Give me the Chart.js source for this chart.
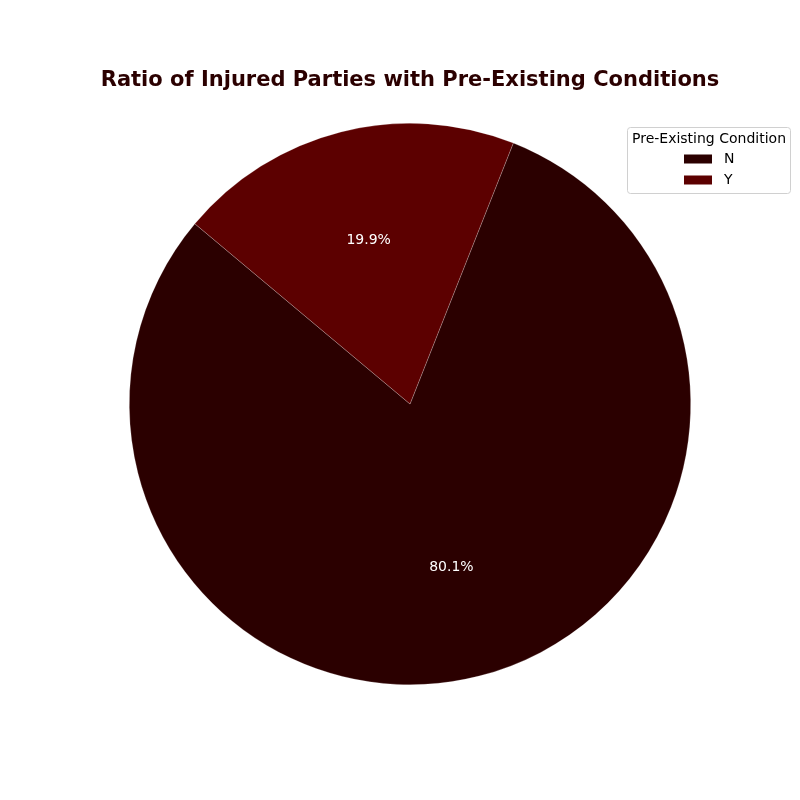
<!DOCTYPE html>
<html>
<head>
<meta charset="utf-8">
<script src="https://cdn.jsdelivr.net/npm/chart.js@4"></script>
<style>
  html, body { margin: 0; padding: 0; background: #fff; }
  #wrap { width: 800px; height: 800px; }
</style>
</head>
<body>
<div id="wrap"><canvas id="pie-chart"></canvas></div>
<script>
// Data
const conditionLabels = ['N', 'Y'];
const conditionShares = [80.1, 19.9];
const sliceColors = ['#2b0000', '#5c0000'];
const chartTitle = 'Ratio of Injured Parties with Pre-Existing Conditions';

// percentage labels inside the slices (matplotlib autopct style)
const pctLabels = {
  id: 'pctLabels',
  afterDatasetsDraw(chart) {
    const ctx = chart.ctx;
    const meta = chart.getDatasetMeta(0);
    const total = conditionShares.reduce((a, b) => a + b, 0);
    ctx.save();
    ctx.font = '14px "DejaVu Sans"';
    ctx.fillStyle = '#ffffff';
    ctx.textAlign = 'center';
    ctx.textBaseline = 'middle';
    meta.data.forEach((arc, i) => {
      const mid = (arc.startAngle + arc.endAngle) / 2;
      const r = arc.outerRadius * 0.6;
      const x = arc.x + Math.cos(mid) * r;
      const y = arc.y + Math.sin(mid) * r;
      ctx.fillText((conditionShares[i] / total * 100).toFixed(1) + '%', x, y);
    });
    ctx.restore();
  }
};

// title drawn by hand so it is not squeezed to the chart area width
const bigTitle = {
  id: 'bigTitle',
  afterDraw(chart) {
    const ctx = chart.ctx;
    const area = chart.chartArea;
    ctx.save();
    ctx.font = 'bold 21px "DejaVu Sans"';
    ctx.fillStyle = '#2b0000';
    ctx.textAlign = 'center';
    ctx.textBaseline = 'middle';
    ctx.fillText(chartTitle, (area.left + area.right) / 2, 81);
    ctx.restore();
  }
};

// legend box in the top right corner
const boxLegend = {
  id: 'boxLegend',
  afterDraw(chart) {
    const ctx = chart.ctx;
    const x0 = 627.5, y0 = 127.5, w = 163, h = 66;
    ctx.save();
    ctx.fillStyle = 'rgba(255,255,255,0.8)';
    ctx.strokeStyle = '#d0d0d0';
    ctx.lineWidth = 1;
    ctx.beginPath();
    ctx.roundRect(x0, y0, w, h, 3);
    ctx.fill();
    ctx.stroke();
    ctx.fillStyle = '#000';
    ctx.font = '14px "DejaVu Sans"';
    ctx.textAlign = 'center';
    ctx.textBaseline = 'middle';
    ctx.fillText('Pre-Existing Condition', x0 + w / 2, 139);
    ctx.textAlign = 'left';
    conditionLabels.forEach((lab, i) => {
      const y = 159 + i * 21;
      ctx.fillStyle = sliceColors[i];
      ctx.fillRect(684, y - 4.5, 28, 9);
      ctx.fillStyle = '#000';
      ctx.fillText(lab, 724, y);
    });
    ctx.restore();
  }
};

const pieChart = document.getElementById('pie-chart');
new Chart(pieChart, {
  type: 'pie',
  data: {
    labels: conditionLabels,
    datasets: [
      {
        data: conditionShares,
        backgroundColor: sliceColors,
        borderColor: 'rgba(255,255,255,0.35)',
        borderWidth: 0.6,
      }
    ]
  },
  options: {
    responsive: true,
    maintainAspectRatio: false,
    animation: false,
    rotation: 21.6,
    layout: {
      padding: { left: 129, right: 109, top: 122, bottom: 114 }
    },
    plugins: {
      legend: { display: false },
      tooltip: { enabled: false },
      title: { display: false }
    }
  },
  plugins: [pctLabels, bigTitle, boxLegend]
});
</script>
</body>
</html>
